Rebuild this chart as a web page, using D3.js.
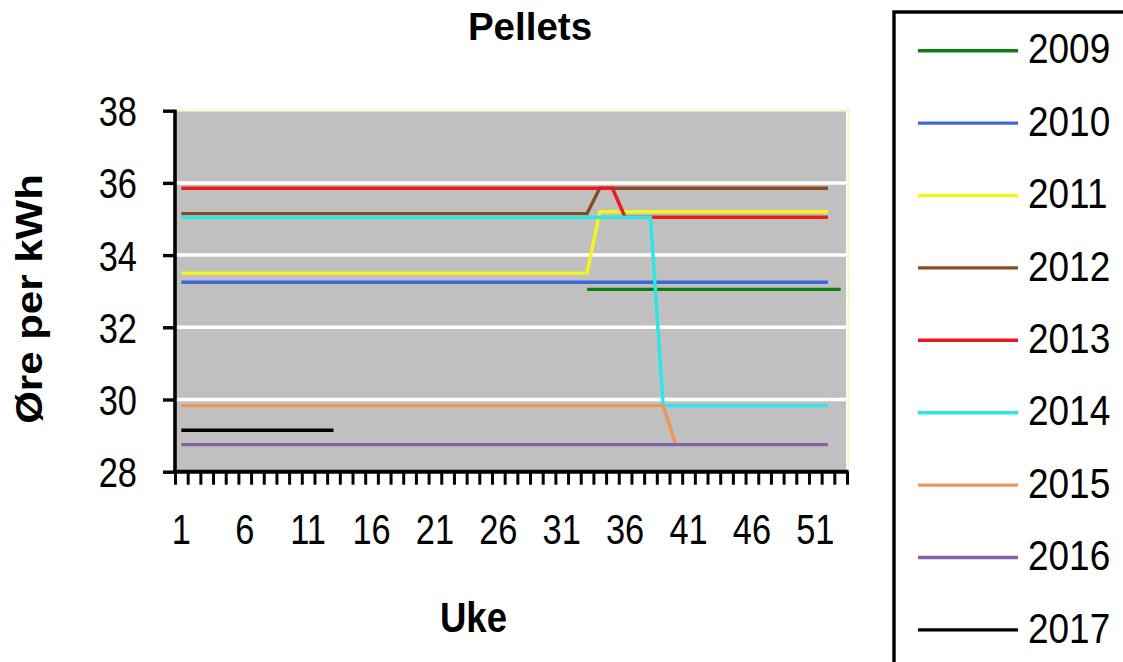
<!DOCTYPE html>
<html>
<head>
<meta charset="utf-8">
<script src="https://cdn.jsdelivr.net/npm/d3@7"></script>
<style>
  html, body { margin: 0; padding: 0; background: #ffffff; }
  svg { display: block; font-family: "Liberation Sans", Arial, sans-serif; }
</style>
</head>
<body>
<svg id="chart" width="1123" height="662"></svg>
<script>
// Weeks 1..53 on the category axis
const weeks = [
  1, 2, 3, 4, 5, 6, 7, 8, 9, 10,
  11, 12, 13, 14, 15, 16, 17, 18, 19, 20,
  21, 22, 23, 24, 25, 26, 27, 28, 29, 30,
  31, 32, 33, 34, 35, 36, 37, 38, 39, 40,
  41, 42, 43, 44, 45, 46, 47, 48, 49, 50,
  51, 52, 53
];
const weekLabels = [1, 6, 11, 16, 21, 26, 31, 36, 41, 46, 51];
const yTicks = [28, 30, 32, 34, 36, 38];

const years = ["2009", "2010", "2011", "2012", "2013", "2014", "2015", "2016", "2017"];
const colors = ["#0b7d12", "#3f66d8", "#f4f41e", "#8b4a22", "#ec1a1a", "#2ae6e6", "#ef9556", "#8163a6", "#000000"];

// Price per week (øre per kWh), null where there is no observation
const v2009 = [
  null, null, null, null, null, null, null, null, null, null,
  null, null, null, null, null, null, null, null, null, null,
  null, null, null, null, null, null, null, null, null, null,
  null, null, 33.05, 33.05, 33.05, 33.05, 33.05, 33.05, 33.05, 33.05,
  33.05, 33.05, 33.05, 33.05, 33.05, 33.05, 33.05, 33.05, 33.05, 33.05,
  33.05, 33.05, 33.05
];
const v2010 = [
  33.25, 33.25, 33.25, 33.25, 33.25, 33.25, 33.25, 33.25, 33.25, 33.25,
  33.25, 33.25, 33.25, 33.25, 33.25, 33.25, 33.25, 33.25, 33.25, 33.25,
  33.25, 33.25, 33.25, 33.25, 33.25, 33.25, 33.25, 33.25, 33.25, 33.25,
  33.25, 33.25, 33.25, 33.25, 33.25, 33.25, 33.25, 33.25, 33.25, 33.25,
  33.25, 33.25, 33.25, 33.25, 33.25, 33.25, 33.25, 33.25, 33.25, 33.25,
  33.25, 33.25, null
];
const v2011 = [
  33.5, 33.5, 33.5, 33.5, 33.5, 33.5, 33.5, 33.5, 33.5, 33.5,
  33.5, 33.5, 33.5, 33.5, 33.5, 33.5, 33.5, 33.5, 33.5, 33.5,
  33.5, 33.5, 33.5, 33.5, 33.5, 33.5, 33.5, 33.5, 33.5, 33.5,
  33.5, 33.5, 33.5, 35.2, 35.2, 35.2, 35.2, 35.2, 35.2, 35.2,
  35.2, 35.2, 35.2, 35.2, 35.2, 35.2, 35.2, 35.2, 35.2, 35.2,
  35.2, 35.2, null
];
const v2012 = [
  35.15, 35.15, 35.15, 35.15, 35.15, 35.15, 35.15, 35.15, 35.15, 35.15,
  35.15, 35.15, 35.15, 35.15, 35.15, 35.15, 35.15, 35.15, 35.15, 35.15,
  35.15, 35.15, 35.15, 35.15, 35.15, 35.15, 35.15, 35.15, 35.15, 35.15,
  35.15, 35.15, 35.15, 35.85, 35.85, 35.85, 35.85, 35.85, 35.85, 35.85,
  35.85, 35.85, 35.85, 35.85, 35.85, 35.85, 35.85, 35.85, 35.85, 35.85,
  35.85, 35.85, null
];
const v2013 = [
  35.85, 35.85, 35.85, 35.85, 35.85, 35.85, 35.85, 35.85, 35.85, 35.85,
  35.85, 35.85, 35.85, 35.85, 35.85, 35.85, 35.85, 35.85, 35.85, 35.85,
  35.85, 35.85, 35.85, 35.85, 35.85, 35.85, 35.85, 35.85, 35.85, 35.85,
  35.85, 35.85, 35.85, 35.85, 35.85, 35.05, 35.05, 35.05, 35.05, 35.05,
  35.05, 35.05, 35.05, 35.05, 35.05, 35.05, 35.05, 35.05, 35.05, 35.05,
  35.05, 35.05, null
];
const v2014 = [
  35.05, 35.05, 35.05, 35.05, 35.05, 35.05, 35.05, 35.05, 35.05, 35.05,
  35.05, 35.05, 35.05, 35.05, 35.05, 35.05, 35.05, 35.05, 35.05, 35.05,
  35.05, 35.05, 35.05, 35.05, 35.05, 35.05, 35.05, 35.05, 35.05, 35.05,
  35.05, 35.05, 35.05, 35.05, 35.05, 35.05, 35.05, 35.05, 29.83, 29.83,
  29.83, 29.83, 29.83, 29.83, 29.83, 29.83, 29.83, 29.83, 29.83, 29.83,
  29.83, 29.83, null
];
const v2015 = [
  29.83, 29.83, 29.83, 29.83, 29.83, 29.83, 29.83, 29.83, 29.83, 29.83,
  29.83, 29.83, 29.83, 29.83, 29.83, 29.83, 29.83, 29.83, 29.83, 29.83,
  29.83, 29.83, 29.83, 29.83, 29.83, 29.83, 29.83, 29.83, 29.83, 29.83,
  29.83, 29.83, 29.83, 29.83, 29.83, 29.83, 29.83, 29.83, 29.83, 28.75,
  null, null, null, null, null, null, null, null, null, null,
  null, null, null
];
const v2016 = [
  28.75, 28.75, 28.75, 28.75, 28.75, 28.75, 28.75, 28.75, 28.75, 28.75,
  28.75, 28.75, 28.75, 28.75, 28.75, 28.75, 28.75, 28.75, 28.75, 28.75,
  28.75, 28.75, 28.75, 28.75, 28.75, 28.75, 28.75, 28.75, 28.75, 28.75,
  28.75, 28.75, 28.75, 28.75, 28.75, 28.75, 28.75, 28.75, 28.75, 28.75,
  28.75, 28.75, 28.75, 28.75, 28.75, 28.75, 28.75, 28.75, 28.75, 28.75,
  28.75, 28.75, null
];
const v2017 = [
  29.15, 29.15, 29.15, 29.15, 29.15, 29.15, 29.15, 29.15, 29.15, 29.15,
  29.15, 29.15, 29.15, null, null, null, null, null, null, null,
  null, null, null, null, null, null, null, null, null, null,
  null, null, null, null, null, null, null, null, null, null,
  null, null, null, null, null, null, null, null, null, null,
  null, null, null
];
const seriesValues = [v2009, v2010, v2011, v2012, v2013, v2014, v2015, v2016, v2017];

// ---- layout ----
const svg = d3.select("#chart");
const plot = { left: 175, right: 847, top: 110.7, bottom: 471.7 };

const x = d3.scaleBand().domain(weeks).range([plot.left, plot.right]).padding(0);
const xEdge = d3.scaleLinear().domain([0, weeks.length]).range([plot.left, plot.right]);
const y = d3.scaleLinear().domain([28, 38]).range([plot.bottom, plot.top]);

// Plot background
svg.append("rect")
  .attr("x", plot.left).attr("y", plot.top)
  .attr("width", plot.right - plot.left - 1).attr("height", plot.bottom - plot.top)
  .attr("fill", "#c0c0c0");

// Pale frame on top and right of the plot area
svg.append("line")
  .attr("x1", plot.left).attr("x2", plot.right + 3)
  .attr("y1", plot.top - 0.5).attr("y2", plot.top - 0.5)
  .attr("stroke", "#fbf8cf").attr("stroke-width", 2.5);
svg.append("line")
  .attr("x1", plot.right + 1.5).attr("x2", plot.right + 1.5)
  .attr("y1", plot.top).attr("y2", plot.bottom)
  .attr("stroke", "#fbf8cf").attr("stroke-width", 2.5);

// Horizontal gridlines
svg.append("g")
  .selectAll("line")
  .data(yTicks.filter(t => t > 28 && t < 38))
  .join("line")
  .attr("x1", plot.left).attr("x2", plot.right - 1)
  .attr("y1", d => y(d)).attr("y2", d => y(d))
  .attr("stroke", "#ffffff").attr("stroke-width", 3.5);

// Series lines
const line = d3.line()
  .defined(d => d.v != null)
  .x(d => x(d.w) + x.bandwidth() / 2)
  .y(d => y(d.v));

svg.append("g")
  .selectAll("path")
  .data(seriesValues.map((vals, i) => ({ year: years[i], color: colors[i], pts: vals.map((v, j) => ({ w: weeks[j], v })) })))
  .join("path")
  .attr("d", d => line(d.pts))
  .attr("fill", "none")
  .attr("stroke", d => d.color)
  .attr("stroke-width", 3.4)
  .attr("stroke-linejoin", "miter");

// Y axis
const yAxis = svg.append("g")
  .attr("transform", `translate(${plot.left},0)`)
  .call(d3.axisLeft(y).tickValues(yTicks).tickSize(12).tickFormat(d3.format("d")));
yAxis.select(".domain").attr("stroke", "#000").attr("stroke-width", 3.6).attr("d", `M0,${plot.top - 1}V${plot.bottom + 1}`);
yAxis.selectAll(".tick line").attr("stroke", "#000").attr("stroke-width", 3.4);
yAxis.selectAll(".tick text")
  .attr("x", 0).attr("dy", null).attr("y", 0)
  .attr("font-size", 42)
  .attr("fill", "#000")
  .attr("text-anchor", "end")
  .attr("transform", "translate(-38,15) scale(0.82,1)");

// X axis: tick marks at week boundaries
const xTicksG = svg.append("g")
  .attr("transform", `translate(0,${plot.bottom})`)
  .call(d3.axisBottom(xEdge).tickValues(d3.range(weeks.length + 1)).tickSize(13).tickFormat(""));
xTicksG.select(".domain").attr("stroke", "#000").attr("stroke-width", 4).attr("d", `M${plot.left - 1.8},0H${plot.right + 1.5}`);
xTicksG.selectAll(".tick line").attr("stroke", "#000").attr("stroke-width", 3);

// X axis: week labels
const xLabelsG = svg.append("g")
  .attr("transform", `translate(0,${plot.bottom})`)
  .call(d3.axisBottom(x).tickValues(weekLabels).tickSize(0));
xLabelsG.select(".domain").remove();
xLabelsG.selectAll(".tick text")
  .attr("y", 0).attr("dy", null)
  .attr("font-size", 43)
  .attr("fill", "#000")
  .attr("text-anchor", "middle")
  .attr("transform", "translate(0,72.5) scale(0.8,1)");

// Title
svg.append("text")
  .attr("x", 530).attr("y", 40)
  .attr("text-anchor", "middle")
  .attr("font-size", 38.5).attr("font-weight", "bold")
  .text("Pellets");

// Axis titles
svg.append("text")
  .attr("transform", "translate(473.5,631.7) scale(0.87,1)")
  .attr("text-anchor", "middle")
  .attr("font-size", 42).attr("font-weight", "bold")
  .text("Uke");

svg.append("text")
  .attr("transform", "translate(41.5,299) rotate(-90) scale(1,0.87)")
  .attr("text-anchor", "middle")
  .attr("font-size", 42).attr("font-weight", "bold")
  .text("Øre per kWh");

// Legend
const legendTop = 50.7, legendStep = 72.4;
svg.append("rect")
  .attr("x", 894).attr("y", 12)
  .attr("width", 400).attr("height", 800)
  .attr("fill", "#ffffff").attr("stroke", "#000").attr("stroke-width", 3.4);

const legendItems = svg.append("g")
  .selectAll("g")
  .data(years.map((yr, i) => ({ yr, color: colors[i], i })))
  .join("g")
  .attr("transform", d => `translate(0,${legendTop + d.i * legendStep})`);
legendItems.append("line")
  .attr("x1", 918).attr("x2", 1018)
  .attr("y1", 0).attr("y2", 0)
  .attr("stroke", d => d.color).attr("stroke-width", 3.4);
legendItems.append("text")
  .attr("transform", "translate(1028,12.6) scale(0.88,1)")
  .attr("font-size", 42)
  .attr("fill", "#000")
  .text(d => d.yr);
</script>
</body>
</html>
